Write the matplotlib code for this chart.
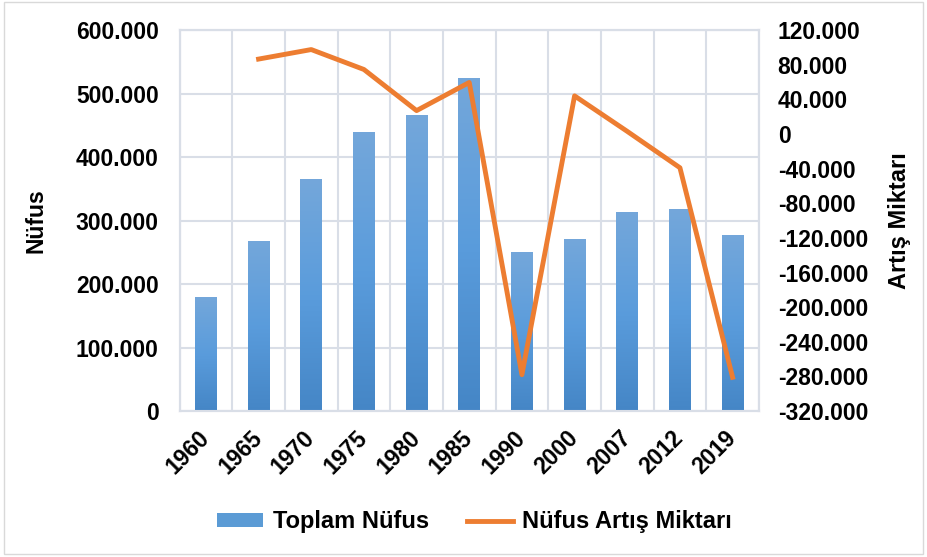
import numpy as np
import matplotlib.pyplot as plt
from matplotlib.ticker import FuncFormatter
from matplotlib.lines import Line2D
from matplotlib.patches import Patch, Rectangle
from matplotlib.colors import LinearSegmentedColormap

plt.rcParams['font.family'] = ['Liberation Sans', 'DejaVu Sans']
plt.rcParams['font.weight'] = 'bold'

# data
years = ["1960", "1965", "1970", "1975", "1980", "1985", "1990", "2000", "2007", "2012", "2019"]
toplam = [180000, 268000, 365000, 440000, 467000, 525000, 250000, 271000, 313000, 318000, 278000]
artis = [np.nan, 86500, 97500, 74500, 27000, 59500, -278000, 44000, 3000, -39000, -281000]

def dotfmt(v, pos):
    if v == 0:
        return "0"
    return "{:,.0f}".format(v).replace(",", ".")

fs = 16.5
fig = plt.figure(figsize=(9.27, 5.57), dpi=100)
ax = fig.add_axes([0.1937, 0.262, 0.625, 0.684])
ax2 = ax.twinx()

grid_c = "#D9DEE7"
x = np.arange(len(years))
bars = ax.bar(x, toplam, width=0.41, color="#5B9BD5", zorder=2)

# gradient fill on bars (lighter at top)
cmap = LinearSegmentedColormap.from_list("g", ["#4586C6", "#5A9CDC", "#74A7DA"])
grad = np.linspace(0, 1, 256).reshape(-1, 1)
for b in bars:
    bx, by = b.get_x(), b.get_y()
    w, h = b.get_width(), b.get_height()
    im = ax.imshow(grad, cmap=cmap, aspect="auto", origin="lower",
                   extent=[bx, bx + w, by, by + h], zorder=3)
    im.set_clip_path(b)
    b.set_facecolor("none")

ax.set_xlim(-0.5, len(years) - 0.5)
ax.set_ylim(0, 600000)
ax.set_yticks(np.arange(0, 600001, 100000))
ax.yaxis.set_major_formatter(FuncFormatter(dotfmt))
ax.set_xticks(x)
ax.set_xticklabels(years, rotation=45, ha="right", va="center", rotation_mode="anchor")
ax.set_xticks(np.arange(-0.5, len(years), 1), minor=True)
ax.grid(True, axis="y", color=grid_c, linewidth=1.5, zorder=0)
ax.grid(True, axis="x", which="minor", color=grid_c, linewidth=1.5, zorder=0)
ax.tick_params(axis="both", which="both", length=0, labelsize=fs, colors="black")
ax.tick_params(axis="x", pad=17)
ax.tick_params(axis="y", pad=15)
ax.set_axisbelow(True)

ax2.plot(x, artis, color="#ED7D31", linewidth=3.5, zorder=4)
ax2.set_ylim(-320000, 120000)
ax2.set_yticks(np.arange(-320000, 120001, 40000))
ax2.yaxis.set_major_formatter(FuncFormatter(dotfmt))
ax2.tick_params(axis="y", length=0, labelsize=fs, pad=13.5)

for a in (ax, ax2):
    for s in a.spines.values():
        s.set_color(grid_c)
        s.set_linewidth(1.5)

ax.set_ylabel("Nüfus", fontsize=fs, fontweight="bold")
ax.yaxis.set_label_coords(-0.228, 0.5)
ax2.set_ylabel("Artış Miktarı", fontsize=fs + 0.5, fontweight="bold")
ax2.yaxis.set_label_coords(1.222, 0.5)

handles = [Patch(facecolor="#5B9BD5", edgecolor="none"),
           Line2D([0], [0], color="#ED7D31", linewidth=3.5)]
fig.legend(handles, ["Toplam Nüfus", "Nüfus Artış Miktarı"], loc="center",
           bbox_to_anchor=(0.512, 0.063), ncol=2, frameon=False, fontsize=fs + 0.5,
           handlelength=1.95, columnspacing=1.6, handletextpad=0.4, handleheight=0.5)

fig.patches.append(Rectangle((0.004, 0.006), 0.992, 0.99, transform=fig.transFigure,
                             fill=False, edgecolor="#D9D9D9", linewidth=1))

fig.savefig("out.png", dpi=100)
